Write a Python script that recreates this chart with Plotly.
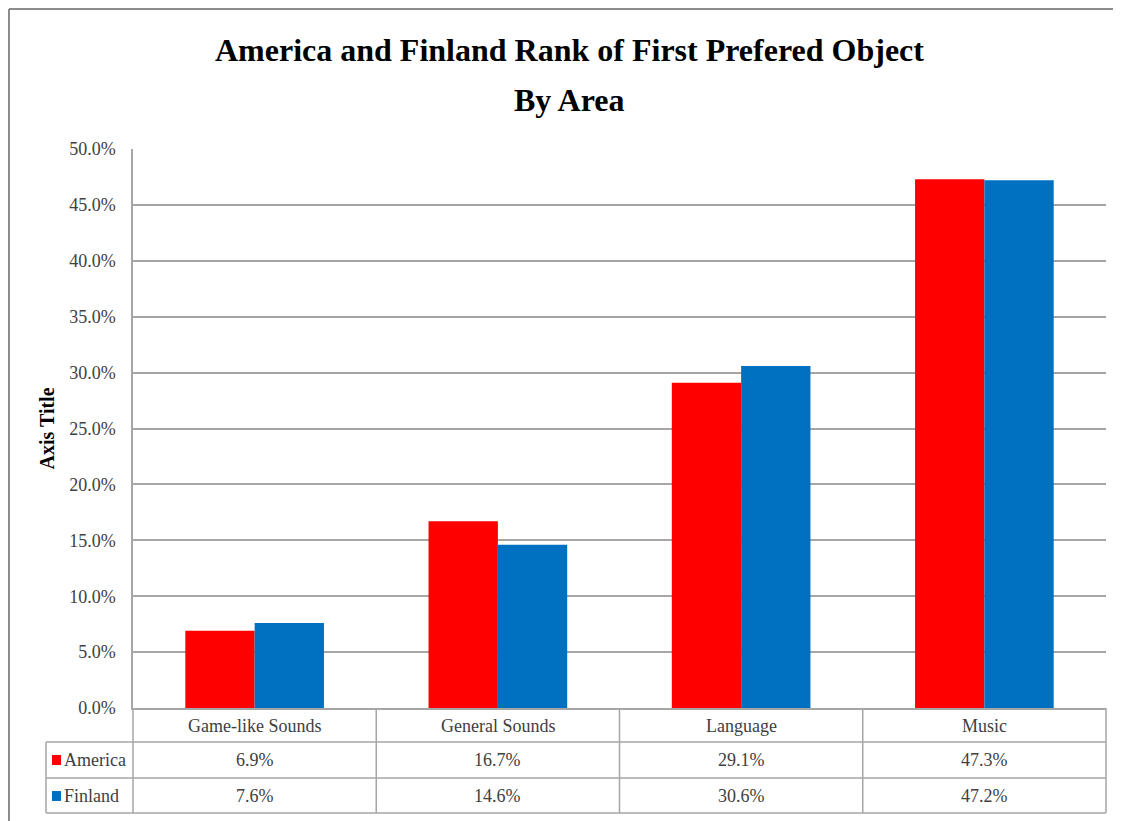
import plotly.graph_objects as go

categories = ["Game-like Sounds", "General Sounds", "Language", "Music"]
series_names = ["America", "Finland"]
america = [6.9, 16.7, 29.1, 47.3]
finland = [7.6, 14.6, 30.6, 47.2]
series_values = [america, finland]
series_colors = ["#FF0000", "#0070C0"]
title_lines = ["America and Finland Rank of First Prefered Object", "By Area"]
y_title = "Axis Title"

OFF = 8  # page body margin
W, H = 1113, 813
L, R, T, B = 125, 15, 141, 113
PW, PH = W - L - R, H - T - B
FONT = "Liberation Serif"
TXT = "#404040"
GRID = "#A6A6A6"


def xp(px):
    return (px - OFF - L) / PW


def yp(py):
    return (H - B - (py - OFF)) / PH


fig = go.Figure()
for name, vals, col in zip(series_names, series_values, series_colors):
    fig.add_trace(go.Bar(x=categories, y=vals, name=name, marker=dict(color=col, line=dict(width=0))))

shapes = []
ann = []
line = dict(color=GRID, width=1.5)
# table horizontal lines
for py in [742, 778, 813]:
    shapes.append(dict(type="line", xref="paper", yref="paper", x0=xp(46), x1=xp(1106), y0=yp(py), y1=yp(py), line=line))
# table vertical lines
shapes.append(dict(type="line", xref="paper", yref="paper", x0=xp(46), x1=xp(46), y0=yp(742), y1=yp(813), line=line))
shapes.append(dict(type="line", xref="paper", yref="paper", x0=0, x1=0, y0=0, y1=yp(813), line=line))
shapes.append(dict(type="line", xref="paper", yref="paper", x0=1, x1=1, y0=0, y1=yp(813), line=line))
for i in range(len(categories) - 1):
    shapes.append(dict(type="line", xref="x", yref="paper", x0=i + 0.5, x1=i + 0.5, y0=0, y1=yp(813), line=line))
# outer frame
frame = dict(color="#8C8C8C", width=2)
shapes.append(dict(type="line", xref="paper", yref="paper", x0=xp(9), x1=xp(1125), y0=yp(9), y1=yp(9), line=frame))
shapes.append(dict(type="line", xref="paper", yref="paper", x0=xp(9), x1=xp(9), y0=yp(9), y1=yp(825), line=frame))

# header category labels
for c in categories:
    ann.append(dict(x=c, xref="x", y=yp(726), yref="paper", text=c, showarrow=False,
                    font=dict(family=FONT, size=18, color=TXT), xanchor="center", yanchor="middle"))
row_y = [760, 796]
for name, vals, col, ry in zip(series_names, series_values, series_colors, row_y):
    shapes.append(dict(type="rect", xref="paper", yref="paper", x0=xp(52), x1=xp(61), y0=yp(ry - 5), y1=yp(ry + 5),
                       fillcolor=col, line=dict(width=0)))
    ann.append(dict(x=xp(62), xref="paper", y=yp(ry), yref="paper", text=name, showarrow=False,
                    font=dict(family=FONT, size=18, color=TXT), xanchor="left", yanchor="middle"))
    for c, v in zip(categories, vals):
        ann.append(dict(x=c, xref="x", y=yp(ry), yref="paper", text=f"{v:.1f}%", showarrow=False,
                        font=dict(family=FONT, size=18, color=TXT), xanchor="center", yanchor="middle"))

# title
for t, py in zip(title_lines, [50, 100]):
    ann.append(dict(x=xp(569), xref="paper", y=yp(py), yref="paper", text=f"<b>{t}</b>", showarrow=False,
                    font=dict(family=FONT, size=32, color="#000000"), xanchor="center", yanchor="middle"))
# y axis title
ann.append(dict(x=xp(46), xref="paper", y=0.5, yref="paper", text=f"<b>{y_title}</b>", textangle=-90, showarrow=False,
                font=dict(family=FONT, size=20, color="#000000"), xanchor="center", yanchor="middle"))

fig.update_layout(
    width=W, height=H,
    margin=dict(l=L, r=R, t=T, b=B, pad=0),
    paper_bgcolor="white", plot_bgcolor="white",
    barmode="group", bargap=0.43, bargroupgap=0,
    showlegend=False,
    shapes=shapes, annotations=ann,
    xaxis=dict(showticklabels=False, showgrid=False, showline=True, linecolor=GRID, linewidth=1.5,
               ticks="", zeroline=False, range=[-0.5, 3.5]),
    yaxis=dict(range=[0, 50], dtick=5, tickformat=".1f", ticksuffix="%", showgrid=True, gridcolor=GRID,
               gridwidth=1.5, showline=True, linecolor=GRID, linewidth=1.5, zeroline=False,
               ticks="outside", ticklen=12, tickcolor="rgba(0,0,0,0)",
               tickfont=dict(family=FONT, size=18, color=TXT)),
)
fig.write_html("out.html")
